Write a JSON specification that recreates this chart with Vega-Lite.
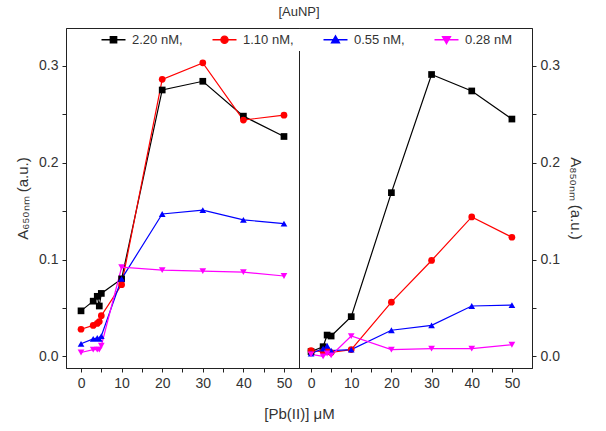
{
  "$schema": "https://vega.github.io/schema/vega-lite/v6.json",
  "padding": {"left": 15, "top": 5, "right": 5, "bottom": 5},
  "background": "white",
  "title": {"text": "[AuNP]", "fontSize": 13, "fontWeight": "normal", "font": "Liberation Sans", "color": "#333", "anchor": "middle", "offset": 9},
  "datasets": {
    "pts": [
      {"panel": "L", "series": "2.20 nM", "x": 0, "y": 0.047},
      {"panel": "L", "series": "2.20 nM", "x": 3, "y": 0.057},
      {"panel": "L", "series": "2.20 nM", "x": 4, "y": 0.062},
      {"panel": "L", "series": "2.20 nM", "x": 4.5, "y": 0.052},
      {"panel": "L", "series": "2.20 nM", "x": 5, "y": 0.065},
      {"panel": "L", "series": "2.20 nM", "x": 10, "y": 0.08},
      {"panel": "L", "series": "2.20 nM", "x": 20, "y": 0.275},
      {"panel": "L", "series": "2.20 nM", "x": 30, "y": 0.284},
      {"panel": "L", "series": "2.20 nM", "x": 40, "y": 0.248},
      {"panel": "L", "series": "2.20 nM", "x": 50, "y": 0.227},
      {"panel": "L", "series": "1.10 nM", "x": 0, "y": 0.028},
      {"panel": "L", "series": "1.10 nM", "x": 3, "y": 0.032},
      {"panel": "L", "series": "1.10 nM", "x": 4, "y": 0.034},
      {"panel": "L", "series": "1.10 nM", "x": 4.5, "y": 0.036},
      {"panel": "L", "series": "1.10 nM", "x": 5, "y": 0.042},
      {"panel": "L", "series": "1.10 nM", "x": 10, "y": 0.074},
      {"panel": "L", "series": "1.10 nM", "x": 20, "y": 0.286},
      {"panel": "L", "series": "1.10 nM", "x": 30, "y": 0.303},
      {"panel": "L", "series": "1.10 nM", "x": 40, "y": 0.244},
      {"panel": "L", "series": "1.10 nM", "x": 50, "y": 0.249},
      {"panel": "L", "series": "0.55 nM", "x": 0, "y": 0.013},
      {"panel": "L", "series": "0.55 nM", "x": 3, "y": 0.018},
      {"panel": "L", "series": "0.55 nM", "x": 4, "y": 0.019},
      {"panel": "L", "series": "0.55 nM", "x": 4.5, "y": 0.018},
      {"panel": "L", "series": "0.55 nM", "x": 5, "y": 0.021},
      {"panel": "L", "series": "0.55 nM", "x": 10, "y": 0.08},
      {"panel": "L", "series": "0.55 nM", "x": 20, "y": 0.147},
      {"panel": "L", "series": "0.55 nM", "x": 30, "y": 0.151},
      {"panel": "L", "series": "0.55 nM", "x": 40, "y": 0.141},
      {"panel": "L", "series": "0.55 nM", "x": 50, "y": 0.137},
      {"panel": "L", "series": "0.28 nM", "x": 0, "y": 0.004},
      {"panel": "L", "series": "0.28 nM", "x": 3, "y": 0.007},
      {"panel": "L", "series": "0.28 nM", "x": 4, "y": 0.007},
      {"panel": "L", "series": "0.28 nM", "x": 4.5, "y": 0.007},
      {"panel": "L", "series": "0.28 nM", "x": 5, "y": 0.011},
      {"panel": "L", "series": "0.28 nM", "x": 10, "y": 0.092},
      {"panel": "L", "series": "0.28 nM", "x": 20, "y": 0.089},
      {"panel": "L", "series": "0.28 nM", "x": 30, "y": 0.088},
      {"panel": "L", "series": "0.28 nM", "x": 40, "y": 0.087},
      {"panel": "L", "series": "0.28 nM", "x": 50, "y": 0.083},
      {"panel": "R", "series": "2.20 nM", "x": 0, "y": 0.005},
      {"panel": "R", "series": "2.20 nM", "x": 3, "y": 0.01},
      {"panel": "R", "series": "2.20 nM", "x": 4, "y": 0.022},
      {"panel": "R", "series": "2.20 nM", "x": 5, "y": 0.021},
      {"panel": "R", "series": "2.20 nM", "x": 10, "y": 0.041},
      {"panel": "R", "series": "2.20 nM", "x": 20, "y": 0.169},
      {"panel": "R", "series": "2.20 nM", "x": 30, "y": 0.291},
      {"panel": "R", "series": "2.20 nM", "x": 40, "y": 0.274},
      {"panel": "R", "series": "2.20 nM", "x": 50, "y": 0.245},
      {"panel": "R", "series": "1.10 nM", "x": 0, "y": 0.006},
      {"panel": "R", "series": "1.10 nM", "x": 3, "y": 0.005},
      {"panel": "R", "series": "1.10 nM", "x": 4, "y": 0.006},
      {"panel": "R", "series": "1.10 nM", "x": 5, "y": 0.004},
      {"panel": "R", "series": "1.10 nM", "x": 10, "y": 0.007},
      {"panel": "R", "series": "1.10 nM", "x": 20, "y": 0.056},
      {"panel": "R", "series": "1.10 nM", "x": 30, "y": 0.099},
      {"panel": "R", "series": "1.10 nM", "x": 40, "y": 0.144},
      {"panel": "R", "series": "1.10 nM", "x": 50, "y": 0.123},
      {"panel": "R", "series": "0.55 nM", "x": 0, "y": 0.003},
      {"panel": "R", "series": "0.55 nM", "x": 3, "y": 0.008},
      {"panel": "R", "series": "0.55 nM", "x": 4, "y": 0.011},
      {"panel": "R", "series": "0.55 nM", "x": 5, "y": 0.006},
      {"panel": "R", "series": "0.55 nM", "x": 10, "y": 0.007},
      {"panel": "R", "series": "0.55 nM", "x": 20, "y": 0.027},
      {"panel": "R", "series": "0.55 nM", "x": 30, "y": 0.032},
      {"panel": "R", "series": "0.55 nM", "x": 40, "y": 0.052},
      {"panel": "R", "series": "0.55 nM", "x": 50, "y": 0.053},
      {"panel": "R", "series": "0.28 nM", "x": 0, "y": 0.002},
      {"panel": "R", "series": "0.28 nM", "x": 3, "y": 0.0},
      {"panel": "R", "series": "0.28 nM", "x": 4, "y": 0.003},
      {"panel": "R", "series": "0.28 nM", "x": 5, "y": 0.001},
      {"panel": "R", "series": "0.28 nM", "x": 10, "y": 0.021},
      {"panel": "R", "series": "0.28 nM", "x": 20, "y": 0.007},
      {"panel": "R", "series": "0.28 nM", "x": 30, "y": 0.008},
      {"panel": "R", "series": "0.28 nM", "x": 40, "y": 0.008},
      {"panel": "R", "series": "0.28 nM", "x": 50, "y": 0.012}
    ]
  },
  "data": {"name": "pts"},
  "spacing": 0,
  "bounds": "flush",
  "hconcat": [
    {
      "width": 233,
      "height": 340,
      "transform": [{"filter": "datum.panel == 'L'"}],
      "encoding": {
        "x": {"field": "x", "type": "quantitative", "scale": {"domain": [-3.7, 53.7], "nice": false, "zero": false},
          "axis": {"values": [0, 5, 10, 15, 20, 25, 30, 35, 40, 45, 50], "labelExpr": "datum.value % 10 == 0 ? datum.label : ''", "title": "[Pb(II)] μM", "titleX": 233, "titleY": 38, "titleAlign": "center"}},
        "y": {"field": "y", "type": "quantitative", "scale": {"domain": [-0.012, 0.339], "nice": false, "zero": false},
          "axis": {"orient": "left", "values": [0, 0.05, 0.1, 0.15, 0.2, 0.25, 0.3], "labelExpr": "abs(datum.value * 10 - round(datum.value * 10)) < 0.001 ? format(datum.value, '.1f') : ''", "title": "A₆₅₀ₙₘ (a.u.)"}},
        "color": {"field": "series", "type": "nominal",
          "scale": {"domain": ["2.20 nM", "1.10 nM", "0.55 nM", "0.28 nM"], "range": ["#000000", "#ff0000", "#0000ff", "#ff00ff"]},
          "legend": {"labelExpr": "datum.label == '0.28 nM' ? datum.label : datum.label + ','",
            "encode": {"symbols": {"update": {"strokeWidth": {"value": 1.3}, "shape": {"signal": "datum.value == '2.20 nM' ? 'M-3,0H3M-0.8,-0.8H0.8V0.8H-0.8Z' : datum.value == '1.10 nM' ? 'M-3,0H3M0.9,0A0.9,0.9 0 1,1 -0.9,0A0.9,0.9 0 1,1 0.9,0Z' : datum.value == '0.55 nM' ? 'M-3,0H3M0,-1L1,0.75H-1Z' : 'M-3,0H3M0,1L1,-0.75H-1Z'"}}}}}}
      },
      "layer": [
        {"mark": {"type": "line", "strokeWidth": 1.2}},
        {"mark": {"type": "point", "filled": true, "size": 45, "opacity": 1},
          "encoding": {"shape": {"condition": [{"test": "datum.series == '2.20 nM'", "value": "square"}, {"test": "datum.series == '1.10 nM'", "value": "circle"}, {"test": "datum.series == '0.55 nM'", "value": "triangle-up"}], "value": "triangle-down"}}}
      ]
    },
    {
      "width": 233,
      "height": 340,
      "transform": [{"filter": "datum.panel == 'R'"}],
      "encoding": {
        "x": {"field": "x", "type": "quantitative", "scale": {"domain": [-3, 55], "nice": false, "zero": false},
          "axis": {"values": [0, 5, 10, 15, 20, 25, 30, 35, 40, 45, 50], "labelExpr": "datum.value % 10 == 0 ? datum.label : ''", "title": null}},
        "y": {"field": "y", "type": "quantitative", "scale": {"domain": [-0.012, 0.339], "nice": false, "zero": false},
          "axis": {"orient": "right", "values": [0, 0.05, 0.1, 0.15, 0.2, 0.25, 0.3], "labelExpr": "abs(datum.value * 10 - round(datum.value * 10)) < 0.001 ? format(datum.value, '.1f') : ''", "title": "A₈₅₀ₙₘ (a.u.)"}},
        "color": {"field": "series", "type": "nominal",
          "scale": {"domain": ["2.20 nM", "1.10 nM", "0.55 nM", "0.28 nM"], "range": ["#000000", "#ff0000", "#0000ff", "#ff00ff"]},
          "legend": {"labelExpr": "datum.label == '0.28 nM' ? datum.label : datum.label + ','",
            "encode": {"symbols": {"update": {"strokeWidth": {"value": 1.3}, "shape": {"signal": "datum.value == '2.20 nM' ? 'M-3,0H3M-0.8,-0.8H0.8V0.8H-0.8Z' : datum.value == '1.10 nM' ? 'M-3,0H3M0.9,0A0.9,0.9 0 1,1 -0.9,0A0.9,0.9 0 1,1 0.9,0Z' : datum.value == '0.55 nM' ? 'M-3,0H3M0,-1L1,0.75H-1Z' : 'M-3,0H3M0,1L1,-0.75H-1Z'"}}}}}}
      },
      "layer": [
        {"mark": {"type": "line", "strokeWidth": 1.2}},
        {"mark": {"type": "point", "filled": true, "size": 45, "opacity": 1},
          "encoding": {"shape": {"condition": [{"test": "datum.series == '2.20 nM'", "value": "square"}, {"test": "datum.series == '1.10 nM'", "value": "circle"}, {"test": "datum.series == '0.55 nM'", "value": "triangle-up"}], "value": "triangle-down"}}}
      ]
    }
  ],
  "resolve": {"scale": {"x": "independent", "y": "independent"}},
  "config": {
    "font": "Liberation Sans",
    "view": {"stroke": "#222", "strokeWidth": 1},
    "axis": {"grid": false, "domainColor": "#222", "tickColor": "#222", "tickSize": 4, "labelFont": "Liberation Sans", "labelFontSize": 14, "labelColor": "#333", "titleFont": "Liberation Sans", "titleFontSize": 15, "titleFontWeight": "normal", "titleColor": "#333", "labelPadding": 4},
    "axisY": {"titlePadding": 8},
    "legend": {
      "orient": "none",
      "legendX": 37,
      "legendY": 1,
      "direction": "horizontal",
      "columns": 4,
      "title": null,
      "fillColor": "white",
      "padding": 4,
      "symbolSize": 64,
      "labelOffset": 12,
      "columnPadding": 26,
      "labelFont": "Liberation Sans",
      "labelFontSize": 13,
      "labelColor": "#333"
    }
  }
}
